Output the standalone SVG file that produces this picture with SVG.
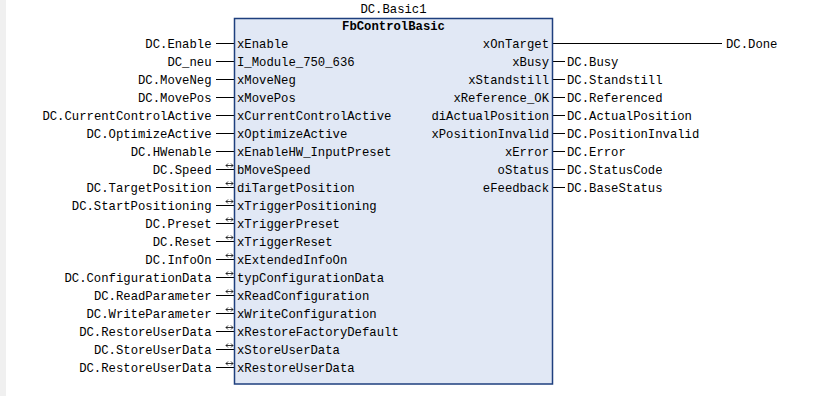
<svg xmlns="http://www.w3.org/2000/svg" width="815" height="407" viewBox="0 0 815 407">
<style>
text{font-family:"Liberation Mono","Courier New",monospace;font-size:12.25px;fill:#000}
.r{text-anchor:end}
.c{text-anchor:middle}
.b{font-weight:bold}
.w{stroke:#000;stroke-width:1;fill:none}
.io{stroke:#000;stroke-width:0.8;fill:none}
</style>
<defs>
<path id="dbl" d="M-3.5,0H3.5M-1.5,-2L-3.5,0L-1.5,2M1.5,-2L3.5,0L1.5,2" class="io"/>
</defs>
<rect x="0" y="0" width="815" height="407" fill="#fff"/>
<rect x="0" y="0" width="6" height="396" fill="#f0f0f0"/>
<g id="connectors">
<path class="w" d="M216,43.5H234M216,61.5H234M216,79.5H234M216,97.5H234M216,115.5H234M216,133.5H234M216,151.5H234M216,169.5H234M216,187.5H234M216,205.5H234M216,223.5H234M216,241.5H234M216,259.5H234M216,277.5H234M216,295.5H234M216,313.5H234M216,331.5H234M216,349.5H234M216,367.5H234"/>
<path class="w" d="M553,43.5H722M553,61.5H565M553,79.5H565M553,97.5H565M553,115.5H565M553,133.5H565M553,151.5H565M553,169.5H565M553,187.5H565"/>
<use href="#dbl" x="229.5" y="165.5"/>
<use href="#dbl" x="229.5" y="183.5"/>
<use href="#dbl" x="229.5" y="201.5"/>
<use href="#dbl" x="229.5" y="219.5"/>
<use href="#dbl" x="229.5" y="237.5"/>
<use href="#dbl" x="229.5" y="255.5"/>
<use href="#dbl" x="229.5" y="273.5"/>
<use href="#dbl" x="229.5" y="291.5"/>
<use href="#dbl" x="229.5" y="309.5"/>
<use href="#dbl" x="229.5" y="327.5"/>
<use href="#dbl" x="229.5" y="345.5"/>
<use href="#dbl" x="229.5" y="363.5"/>
</g>
<g id="fb-block">
<text class="c" x="393.5" y="12.5">DC.Basic1</text>
<rect x="234.5" y="18.5" width="318" height="365.5" fill="#e1e8f5" stroke="#1e3f7e" stroke-width="1.5"/>
<text class="c b" x="393.5" y="30">FbControlBasic</text>
<text x="237" y="47.5">xEnable</text>
<text x="237" y="65.5">I_Module_750_636</text>
<text x="237" y="83.5">xMoveNeg</text>
<text x="237" y="101.5">xMovePos</text>
<text x="237" y="119.5">xCurrentControlActive</text>
<text x="237" y="137.5">xOptimizeActive</text>
<text x="237" y="155.5">xEnableHW_InputPreset</text>
<text x="237" y="173.5">bMoveSpeed</text>
<text x="237" y="191.5">diTargetPosition</text>
<text x="237" y="209.5">xTriggerPositioning</text>
<text x="237" y="227.5">xTriggerPreset</text>
<text x="237" y="245.5">xTriggerReset</text>
<text x="237" y="263.5">xExtendedInfoOn</text>
<text x="237" y="281.5">typConfigurationData</text>
<text x="237" y="299.5">xReadConfiguration</text>
<text x="237" y="317.5">xWriteConfiguration</text>
<text x="237" y="335.5">xRestoreFactoryDefault</text>
<text x="237" y="353.5">xStoreUserData</text>
<text x="237" y="371.5">xRestoreUserData</text>
<text class="r" x="549" y="47.5">xOnTarget</text>
<text class="r" x="549" y="65.5">xBusy</text>
<text class="r" x="549" y="83.5">xStandstill</text>
<text class="r" x="549" y="101.5">xReference_OK</text>
<text class="r" x="549" y="119.5">diActualPosition</text>
<text class="r" x="549" y="137.5">xPositionInvalid</text>
<text class="r" x="549" y="155.5">xError</text>
<text class="r" x="549" y="173.5">oStatus</text>
<text class="r" x="549" y="191.5">eFeedback</text>
</g>
<g id="inputs">
<text class="r" x="211.5" y="47.5">DC.Enable</text>
<text class="r" x="211.5" y="65.5">DC_neu</text>
<text class="r" x="211.5" y="83.5">DC.MoveNeg</text>
<text class="r" x="211.5" y="101.5">DC.MovePos</text>
<text class="r" x="211.5" y="119.5">DC.CurrentControlActive</text>
<text class="r" x="211.5" y="137.5">DC.OptimizeActive</text>
<text class="r" x="211.5" y="155.5">DC.HWenable</text>
<text class="r" x="211.5" y="173.5">DC.Speed</text>
<text class="r" x="211.5" y="191.5">DC.TargetPosition</text>
<text class="r" x="211.5" y="209.5">DC.StartPositioning</text>
<text class="r" x="211.5" y="227.5">DC.Preset</text>
<text class="r" x="211.5" y="245.5">DC.Reset</text>
<text class="r" x="211.5" y="263.5">DC.InfoOn</text>
<text class="r" x="211.5" y="281.5">DC.ConfigurationData</text>
<text class="r" x="211.5" y="299.5">DC.ReadParameter</text>
<text class="r" x="211.5" y="317.5">DC.WriteParameter</text>
<text class="r" x="211.5" y="335.5">DC.RestoreUserData</text>
<text class="r" x="211.5" y="353.5">DC.StoreUserData</text>
<text class="r" x="211.5" y="371.5">DC.RestoreUserData</text>
</g>
<g id="outputs">
<text x="726" y="47.5">DC.Done</text>
<text x="567" y="65.5">DC.Busy</text>
<text x="567" y="83.5">DC.Standstill</text>
<text x="567" y="101.5">DC.Referenced</text>
<text x="567" y="119.5">DC.ActualPosition</text>
<text x="567" y="137.5">DC.PositionInvalid</text>
<text x="567" y="155.5">DC.Error</text>
<text x="567" y="173.5">DC.StatusCode</text>
<text x="567" y="191.5">DC.BaseStatus</text>
</g>
</svg>
